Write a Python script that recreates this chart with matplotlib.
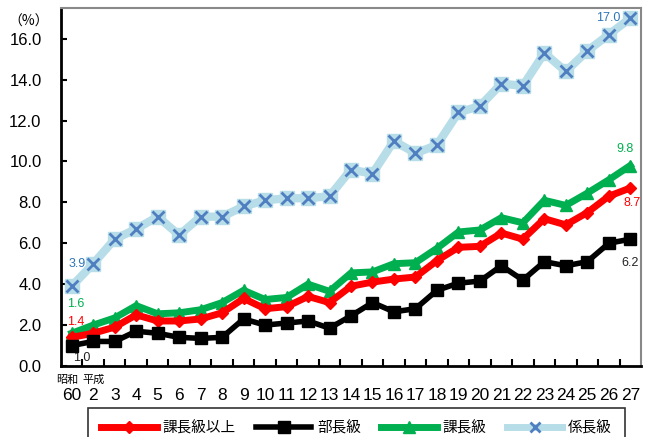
import matplotlib
matplotlib.use("Agg")
import matplotlib.pyplot as plt
import numpy as np
from matplotlib.lines import Line2D

plt.rcParams['font.family'] = ['Liberation Sans', 'Noto Sans CJK JP', 'DejaVu Sans']

years = ['60', '2', '3', '4', '5', '6', '7', '8', '9', '10', '11', '12', '13', '14',
         '15', '16', '17', '18', '19', '20', '21', '22', '23', '24', '25', '26', '27']

kachou_ijou = [1.4, 1.6, 1.9, 2.5, 2.2, 2.2, 2.3, 2.6, 3.3, 2.8, 2.9, 3.4, 3.1, 3.9,
               4.1, 4.25, 4.35, 5.15, 5.8, 5.85, 6.5, 6.2, 7.2, 6.9, 7.5, 8.3, 8.7]
buchou = [1.0, 1.2, 1.2, 1.7, 1.6, 1.4, 1.35, 1.4, 2.3, 2.0, 2.1, 2.2, 1.85, 2.45,
          3.1, 2.65, 2.8, 3.7, 4.05, 4.15, 4.9, 4.2, 5.1, 4.9, 5.1, 6.0, 6.2]
kachou = [1.6, 2.0, 2.35, 2.95, 2.55, 2.6, 2.75, 3.1, 3.7, 3.25, 3.35, 4.0, 3.65, 4.55,
          4.6, 5.0, 5.05, 5.75, 6.55, 6.65, 7.25, 7.0, 8.1, 7.85, 8.45, 9.1, 9.8]
kakari = [3.9, 5.0, 6.2, 6.7, 7.3, 6.4, 7.3, 7.3, 7.8, 8.1, 8.2, 8.2, 8.3, 9.6,
          9.4, 11.0, 10.4, 10.8, 12.4, 12.7, 13.8, 13.7, 15.3, 14.4, 15.4, 16.2, 17.0]

labels = ['課長級以上', '部長級', '課長級', '係長級']

RED = '#ff0000'
BLACK = '#000000'
GREEN = '#00b050'
LBLUE = '#b7dee8'
DBLUE = '#4f7fc0'

fig = plt.figure(figsize=(6.53, 4.37), dpi=100)
ax = fig.add_axes([61/653, 1-366/437, (641-61)/653, (366-8)/437])

x = np.arange(len(years))

ax.plot(x, kakari, color=LBLUE, lw=6, marker='s', ms=10, mfc=LBLUE, mec=LBLUE, zorder=2)
ax.plot(x, kakari, color='none', lw=0, marker='x', ms=9, mec=DBLUE, mew=2, zorder=3)
ax.plot(x, kachou, color=GREEN, lw=5, marker='^', ms=9, mfc=GREEN, mec=GREEN, zorder=4)
ax.plot(x, kachou_ijou, color=RED, lw=5, marker='D', ms=6, mfc=RED, mec=RED, zorder=5)
ax.plot(x, buchou, color=BLACK, lw=4, marker='s', ms=9, mfc=BLACK, mec=BLACK, zorder=6)

ax.set_xlim(-0.5, len(years) - 0.5)
ax.set_ylim(0, 17.5)
ax.set_yticks(np.arange(0, 17, 2))
ax.set_yticklabels([f'{v:.1f}' for v in np.arange(0, 17, 2)], fontsize=12)
ax.set_xticks(x)
ax.set_xticklabels(years, fontsize=12.5)
ax.set_xticks(x[:-1] + 0.5, minor=True)
ax.tick_params(axis='x', which='major', length=0, pad=16)
ax.tick_params(axis='x', which='minor', direction='in', length=5, width=1.5, color='black')
ax.tick_params(axis='y', direction='in', length=4, width=1.5, pad=14)

for s in ['left', 'bottom']:
    ax.spines[s].set_linewidth(2)
    ax.spines[s].set_color('black')
for s in ['top', 'right']:
    ax.spines[s].set_linewidth(1.5)
    ax.spines[s].set_color('#888888')

# era labels
ax.text(-0.2, -0.025, '昭和', transform=ax.get_xaxis_transform(), ha='center', va='top',
        fontsize=8, family=['Noto Sans CJK JP'])
ax.text(1.0, -0.025, '平成', transform=ax.get_xaxis_transform(), ha='center', va='top',
        fontsize=8, family=['Noto Sans CJK JP'])

# unit
fig.text(29/653, 1-22/437, '（%）', fontsize=10, ha='center', va='center',
         family=['Noto Sans CJK JP'])

# data labels
ax.annotate(f'{kakari[0]:.1f}', (x[0], kakari[0]), xytext=(4, 16), textcoords='offset points',
            color='#2e75b6', fontsize=9, ha='center', va='center')
ax.annotate(f'{kachou[0]:.1f}', (x[0], kachou[0]), xytext=(3, 21), textcoords='offset points',
            color=GREEN, fontsize=9, ha='center', va='center')
ax.annotate(f'{kachou_ijou[0]:.1f}', (x[0], kachou_ijou[0]), xytext=(3, 11), textcoords='offset points',
            color=RED, fontsize=9, ha='center', va='center')
ax.annotate(f'{buchou[0]:.1f}', (x[0], buchou[0]), xytext=(7, -9), textcoords='offset points',
            color='#222222', fontsize=9, ha='center', va='center')
ax.annotate(f'{kakari[-1]:.1f}', (x[-1], kakari[-1]), xytext=(-16, 0), textcoords='offset points',
            color='#2e75b6', fontsize=9, ha='center', va='center')
ax.annotate(f'{kachou[-1]:.1f}', (x[-1], kachou[-1]), xytext=(-4, 12), textcoords='offset points',
            color=GREEN, fontsize=9, ha='center', va='center')
ax.annotate(f'{kachou_ijou[-1]:.1f}', (x[-1], kachou_ijou[-1]), xytext=(1, -11), textcoords='offset points',
            color=RED, fontsize=9, ha='center', va='center')
ax.annotate(f'{buchou[-1]:.1f}', (x[-1], buchou[-1]), xytext=(0, -17), textcoords='offset points',
            color='#222222', fontsize=9, ha='center', va='center')

handles = [
    Line2D([], [], color=RED, lw=5, marker='D', ms=6, mfc=RED, mec=RED),
    Line2D([], [], color=BLACK, lw=4, marker='s', ms=9, mfc=BLACK, mec=BLACK),
    Line2D([], [], color=GREEN, lw=5, marker='^', ms=9, mfc=GREEN, mec=GREEN),
    Line2D([], [], color=LBLUE, lw=5, marker='x', ms=7, mec=DBLUE, mew=2),
]
leg = fig.legend(handles, labels, loc='upper left', bbox_to_anchor=(88/653, 1-408/437),
                 ncol=4, frameon=True, fancybox=False, edgecolor='black', handlelength=3.8,
                 columnspacing=1.4, handletextpad=0.4, borderpad=0.9, borderaxespad=0,
                 prop={'family': ['Noto Sans CJK JP'], 'size': 10.5})
leg.get_frame().set_linewidth(1.2)

fig.savefig('out.png', dpi=100)
